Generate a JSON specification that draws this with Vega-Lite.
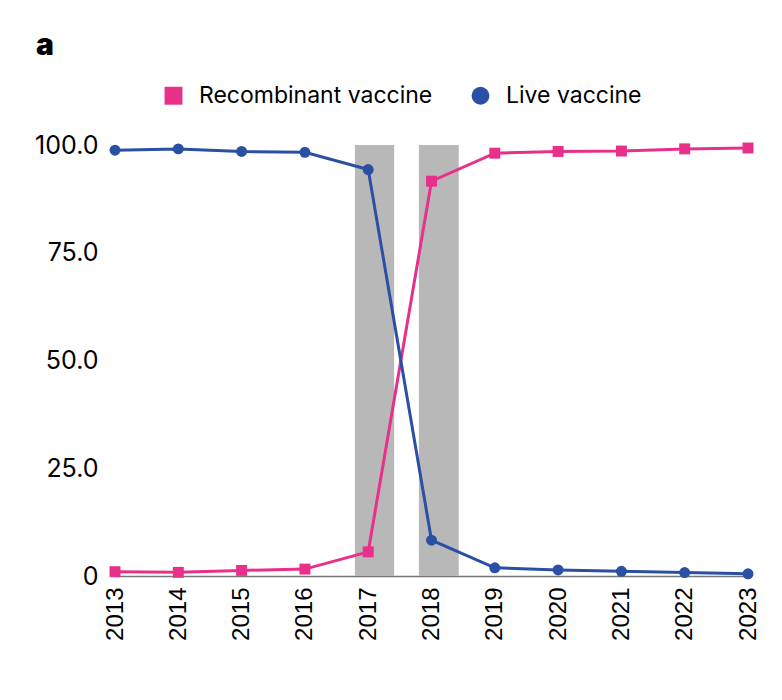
{
  "$schema": "https://vega.github.io/schema/vega-lite/v6.json",
  "width": 633,
  "height": 431,
  "autosize": {"type": "none"},
  "padding": {"left": 115, "top": 145, "right": 34, "bottom": 124},
  "title": {"text": "a", "anchor": "start", "frame": "group", "dx": -79, "offset": 23, "font": "Inter", "fontSize": 30, "fontWeight": 900, "color": "#000"},
  "config": {"view": {"stroke": null}},
  "datasets": {
    "shade": [
      {"start": 2016.79, "end": 2017.41},
      {"start": 2017.8, "end": 2018.43}
    ],
    "series": [
      {"year": 2013, "type": "Recombinant vaccine", "value": 1.0},
      {"year": 2014, "type": "Recombinant vaccine", "value": 0.85},
      {"year": 2015, "type": "Recombinant vaccine", "value": 1.3},
      {"year": 2016, "type": "Recombinant vaccine", "value": 1.6},
      {"year": 2017, "type": "Recombinant vaccine", "value": 5.6},
      {"year": 2018, "type": "Recombinant vaccine", "value": 91.6},
      {"year": 2019, "type": "Recombinant vaccine", "value": 98.1},
      {"year": 2020, "type": "Recombinant vaccine", "value": 98.5},
      {"year": 2021, "type": "Recombinant vaccine", "value": 98.6},
      {"year": 2022, "type": "Recombinant vaccine", "value": 99.1},
      {"year": 2023, "type": "Recombinant vaccine", "value": 99.3},
      {"year": 2013, "type": "Live vaccine", "value": 98.8},
      {"year": 2014, "type": "Live vaccine", "value": 99.1},
      {"year": 2015, "type": "Live vaccine", "value": 98.5},
      {"year": 2016, "type": "Live vaccine", "value": 98.3},
      {"year": 2017, "type": "Live vaccine", "value": 94.3},
      {"year": 2018, "type": "Live vaccine", "value": 8.3},
      {"year": 2019, "type": "Live vaccine", "value": 1.9},
      {"year": 2020, "type": "Live vaccine", "value": 1.4},
      {"year": 2021, "type": "Live vaccine", "value": 1.1},
      {"year": 2022, "type": "Live vaccine", "value": 0.8},
      {"year": 2023, "type": "Live vaccine", "value": 0.5}
    ]
  },
  "layer": [
    {
      "data": {"name": "shade"},
      "mark": {"type": "rect", "color": "#b8b8b8"},
      "encoding": {
        "x": {"field": "start", "type": "quantitative", "scale": {"domain": [2013, 2023], "nice": false, "zero": false},
          "axis": {"values": [2013,2014,2015,2016,2017,2018,2019,2020,2021,2022,2023], "format": "d", "title": null, "labelAngle": -90, "labelFont": "Liberation Sans", "labelFontSize": 24, "labelColor": "#000", "ticks": false, "labelPadding": 11, "grid": false, "domainColor": "#777", "domainWidth": 1.5, "labelAlign": "right", "labelBaseline": "middle"}},
        "x2": {"field": "end"},
        "y": {"datum": 0, "type": "quantitative", "scale": {"domain": [0, 100], "nice": false},
          "axis": {"values": [0, 25, 50, 75, 100], "labelExpr": "datum.value == 0 ? '0' : format(datum.value, '.1f')", "title": null, "domain": false, "ticks": false, "labelFont": "Inter", "labelFontSize": 25, "labelColor": "#000", "labelPadding": 17, "gridColor": "#cccccc", "gridWidth": 1}},
        "y2": {"datum": 100}
      }
    },
    {
      "data": {"name": "series"},
      "mark": {"type": "line", "strokeWidth": 3},
      "encoding": {
        "x": {"field": "year", "type": "quantitative"},
        "y": {"field": "value", "type": "quantitative"},
        "color": {"field": "type", "type": "nominal", "scale": {"domain": ["Recombinant vaccine", "Live vaccine"], "range": ["#e8308a", "#2b4fa3"]}}
      }
    },
    {
      "data": {"name": "series"},
      "mark": {"type": "point", "filled": true, "opacity": 1, "size": 120},
      "encoding": {
        "x": {"field": "year", "type": "quantitative"},
        "y": {"field": "value", "type": "quantitative"},
        "color": {"field": "type", "type": "nominal",
          "legend": {"title": null, "orient": "none", "legendX": 47, "legendY": -61, "direction": "horizontal", "labelFont": "Inter", "labelFontSize": 23, "labelColor": "#000", "symbolSize": 320, "symbolOpacity": 1, "symbolStrokeWidth": 0, "columnPadding": 36, "labelOffset": 14, "labelLimit": 400}},
        "shape": {"field": "type", "type": "nominal", "scale": {"domain": ["Recombinant vaccine", "Live vaccine"], "range": ["square", "circle"]},
          "legend": {"title": null, "orient": "none", "legendX": 47, "legendY": -61, "direction": "horizontal", "labelFont": "Inter", "labelFontSize": 23, "labelColor": "#000", "symbolSize": 320, "symbolOpacity": 1, "symbolStrokeWidth": 0, "columnPadding": 36, "labelOffset": 14, "labelLimit": 400}}
      }
    }
  ]
}
